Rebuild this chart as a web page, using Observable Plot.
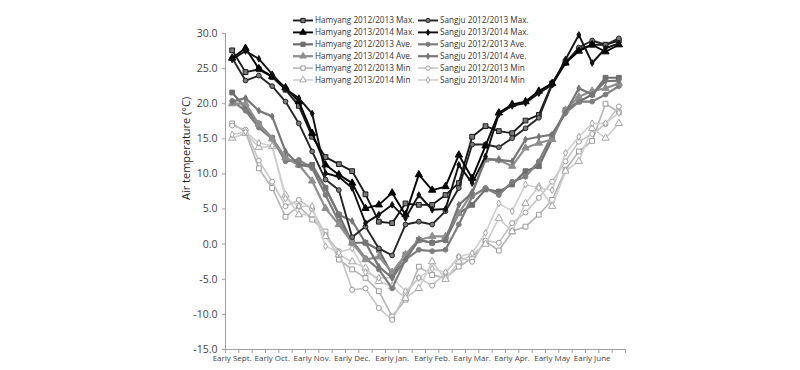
<!DOCTYPE html>
<html><head><meta charset="utf-8">
<script src="https://cdn.jsdelivr.net/npm/d3@7"></script>
<script src="https://cdn.jsdelivr.net/npm/@observablehq/plot@0.6"></script>
<style>
body{margin:0;background:#fff;}
#wrap{position:relative;width:800px;height:370px;font-family:"Open Sans",sans-serif;}
#legend{position:absolute;left:0;top:0;pointer-events:none;}
</style></head>
<body><div id="wrap"></div>
<script>
// ---- data ----
const months = ["Sept.","Oct.","Nov.","Dec.","Jan.","Feb.","Mar.","Apr.","May","June"];
const parts = ["Early","Mid","Late"];
const periods = months.flatMap(m => parts.map(p => p + " " + m));
const labelEvery = 3;

const hamyang1213Max = [27.6,24.5,24.9,23.8,22.0,19.7,15.3,12.4,11.4,10.4,7.1,3.2,3.0,5.8,5.6,5.6,7.0,8.7,15.3,16.8,16.1,15.8,17.6,18.4,22.9,26.0,27.7,28.4,28.4,29.0];
const hamyang1314Max = [26.5,27.9,25.0,23.9,22.3,20.3,15.8,11.3,9.9,8.7,5.1,5.6,7.3,4.2,9.9,7.7,8.2,12.7,9.4,14.0,18.7,19.9,20.3,21.8,22.9,25.8,27.5,28.4,27.4,28.4];
const hamyang1213Ave = [21.6,19.4,17.1,15.1,12.3,11.3,11.3,8.0,4.2,0.2,0.2,-0.8,-4.4,-1.5,0.6,0.2,0.6,4.4,5.6,7.8,7.5,8.5,10.4,11.1,15.0,19.1,20.3,21.3,23.7,23.7];
const hamyang1314Ave = [20.0,20.0,17.1,15.0,12.3,11.3,9.0,5.1,2.8,0.2,-2.2,-1.8,-4.0,-1.5,0.6,1.1,1.1,4.4,7.3,12.0,12.0,11.1,13.7,14.4,14.9,19.1,21.0,21.8,22.2,22.9];
const hamyang1213Min = [17.2,16.0,10.8,8.0,3.9,5.4,3.5,1.8,-2.2,-3.6,-4.8,-6.7,-10.3,-7.9,-3.2,-4.4,-4.8,-3.2,-2.0,0.4,-0.9,1.8,2.5,4.2,6.3,10.6,13.2,14.7,20.0,18.8];
const hamyang1314Min = [15.1,15.8,13.8,13.9,7.0,4.2,4.2,1.1,-1.5,-2.5,-3.4,-5.3,-6.0,-7.7,-6.3,-2.5,-5.0,-2.5,-1.5,0.0,3.7,1.8,5.8,8.2,5.4,10.4,11.8,16.5,15.1,17.2];
const sangju1213Max = [26.5,23.3,24.0,22.5,20.3,17.2,13.2,9.2,7.7,1.0,2.5,-0.6,-1.6,2.8,3.2,2.8,4.7,8.0,14.2,14.2,13.8,15.1,16.5,18.0,22.7,25.8,28.0,29.0,28.4,29.3];
const sangju1314Max = [26.3,27.5,26.4,24.2,22.1,20.8,18.6,10.1,9.6,8.0,3.0,4.2,5.6,3.7,7.0,4.9,5.0,11.3,8.7,12.5,18.5,19.7,20.1,21.5,22.7,26.3,29.8,25.8,27.9,28.6];
const sangju1213Ave = [20.4,19.0,16.6,15.0,11.8,12.0,10.8,7.0,3.2,0.5,-2.0,-3.6,-6.3,-2.2,-0.8,-1.0,-0.8,2.8,6.8,8.0,7.0,8.9,9.6,11.8,15.6,18.7,20.3,20.3,21.3,22.5];
const sangju1314Ave = [20.3,20.8,19.0,18.2,13.2,11.3,11.0,8.0,4.2,3.3,0.2,-3.2,-4.8,-2.2,0.6,0.2,0.6,5.6,7.3,12.2,12.0,11.8,14.9,15.3,15.6,18.7,22.2,21.3,23.2,23.3];
const sangju1213Min = [16.9,16.3,11.9,8.9,5.4,6.3,5.0,1.3,-1.0,-6.5,-6.3,-9.1,-10.8,-7.0,-4.8,-5.9,-4.1,-1.8,-2.5,0.5,0.2,3.0,4.5,6.6,8.9,11.8,14.6,15.7,17.1,19.6];
const sangju1314Min = [15.6,16.0,14.4,14.0,6.5,5.4,5.4,-0.3,-1.2,-0.6,-4.0,-4.8,-4.8,-6.7,-4.8,-3.5,-4.0,-1.8,-1.3,1.6,5.8,4.7,8.5,8.0,7.7,13.0,15.3,17.2,17.2,18.7];

const yTicks = [-15,-10,-5,0,5,10,15,20,25,30];

// ---- styles per series (legend order, row-wise) ----
const series = [
  {label:"Hamyang 2012/2013 Max.", values:hamyang1213Max, line:"#1a1a1a", w:1.9, sym:"square",   r:2.7, fill:"#7a7a7a", stroke:"#1a1a1a", group:2},
  {label:"Sangju 2012/2013 Max.",  values:sangju1213Max,  line:"#262626", w:1.9, sym:"circle",   r:2.4, fill:"#7a7a7a", stroke:"#262626", group:2},
  {label:"Hamyang 2013/2014 Max.", values:hamyang1314Max, line:"#000",    w:1.9, sym:"triangle", r:2.7, fill:"#000",    stroke:"#000",    group:2},
  {label:"Sangju 2013/2014 Max.",  values:sangju1314Max,  line:"#111",    w:1.9, sym:"diamond",  r:2.0, fill:"#111",    stroke:"#111",    group:2},
  {label:"Hamyang 2012/2013 Ave.", values:hamyang1213Ave, line:"#6e6e6e", w:2.2, sym:"square",   r:2.7, fill:"#6e6e6e", stroke:"#6e6e6e", group:1},
  {label:"Sangju 2012/2013 Ave.",  values:sangju1213Ave,  line:"#7d7d7d", w:2.2, sym:"circle",   r:2.4, fill:"#7d7d7d", stroke:"#7d7d7d", group:1},
  {label:"Hamyang 2013/2014 Ave.", values:hamyang1314Ave, line:"#8f8f8f", w:2.2, sym:"triangle", r:2.7, fill:"#8f8f8f", stroke:"#8f8f8f", group:1},
  {label:"Sangju 2013/2014 Ave.",  values:sangju1314Ave,  line:"#767676", w:2.2, sym:"diamond",  r:2.0, fill:"#767676", stroke:"#767676", group:1},
  {label:"Hamyang 2012/2013 Min",  values:hamyang1213Min, line:"#b4b4b4", w:1.6, sym:"square",   r:2.7, fill:"#fff", stroke:"#9a9a9a", group:0},
  {label:"Sangju 2012/2013 Min",   values:sangju1213Min,  line:"#c4c4c4", w:1.6, sym:"circle",   r:2.5, fill:"#fff", stroke:"#9a9a9a", group:0},
  {label:"Hamyang 2013/2014 Min",  values:hamyang1314Min, line:"#cdcdcd", w:1.6, sym:"triangle", r:2.7, fill:"#fff", stroke:"#a5a5a5", group:0},
  {label:"Sangju 2013/2014 Min",   values:sangju1314Min,  line:"#cfcfcf", w:1.6, sym:"diamond",  r:2.1, fill:"#fff", stroke:"#a5a5a5", group:0}
];

const W = 800, H = 370;
const marks = [
  Plot.ruleY([yTicks[0]], {stroke:"#a0a0a0", strokeWidth:1}),
  Plot.ruleX([-0.5], {stroke:"#a0a0a0", strokeWidth:1}),
  Plot.axisY({ticks: yTicks, tickFormat: d => d.toFixed(1), tickSize: 3, tickPadding: 5, fontSize: 10.5, stroke:"#a0a0a0", color:"#444", label:null}),
  Plot.axisX({ticks: d3.range(-0.5, periods.length, 1), tickFormat: () => "", tickSize: 4, stroke:"#a0a0a0", label:null}),
  Plot.axisX({ticks: d3.range(0, periods.length, labelEvery), tickFormat: i => periods[i], tickSize: 0, tickPadding: 6, fontSize: 8, color:"#444", label:null}),
  Plot.text(["Air temperature (°C)"], {frameAnchor:"left", rotate:-90, dx:-39, dy:8.5, fontSize:11, fill:"#222"})
];
[0,1,2].forEach(g => {
  series.filter(s => s.group === g).forEach(s => {
    const pts = s.values.map((v,i) => ({i, v}));
    marks.push(Plot.line(pts, {x:"i", y:"v", stroke:s.line, strokeWidth:s.w, curve:"linear"}));
    marks.push(Plot.dot(pts, {x:"i", y:"v", symbol:s.sym, r:s.r, fill:s.fill, stroke:s.stroke, strokeWidth:1}));
  });
});

const chart = Plot.plot({
  width: W, height: H,
  marginLeft: 225, marginRight: 175, marginTop: 33, marginBottom: 21,
  style: {fontFamily: '"Open Sans", sans-serif', background: "#fff"},
  x: {type:"linear", domain:[-0.5, periods.length - 0.5]},
  y: {domain:[yTicks[0], yTicks[yTicks.length-1]]},
  marks
});
const wrap = document.getElementById("wrap");
wrap.appendChild(chart);

// ---- legend (overlay, two columns, row-wise) ----
const leg = d3.select(wrap).append("svg").attr("id","legend").attr("width",W).attr("height",H);
const colX = [293, 418], row0 = 20.5, rowH = 11.9, lineLen = 20;
const types = {square:d3.symbolSquare, circle:d3.symbolCircle, triangle:d3.symbolTriangle, diamond:d3.symbolDiamond};
series.forEach((s, k) => {
  const c = k % 2, r = Math.floor(k / 2);
  const g = leg.append("g").attr("transform", `translate(${colX[c]},${row0 + r*rowH})`);
  g.append("line").attr("x1",0).attr("x2",lineLen).attr("y1",0).attr("y2",0).attr("stroke",s.line).attr("stroke-width",s.w);
  g.append("path").attr("transform",`translate(${lineLen/2},0)`)
    .attr("d", d3.symbol(types[s.sym], Math.PI*s.r*s.r*0.8)())
    .attr("fill", s.fill).attr("stroke", s.stroke).attr("stroke-width",1);
  g.append("text").attr("x", lineLen + 2).attr("y", 0).attr("dy","0.35em")
    .attr("font-size", 8.2).attr("fill","#333").attr("font-family",'"Open Sans", sans-serif').text(s.label);
});
</script>
</body></html>
